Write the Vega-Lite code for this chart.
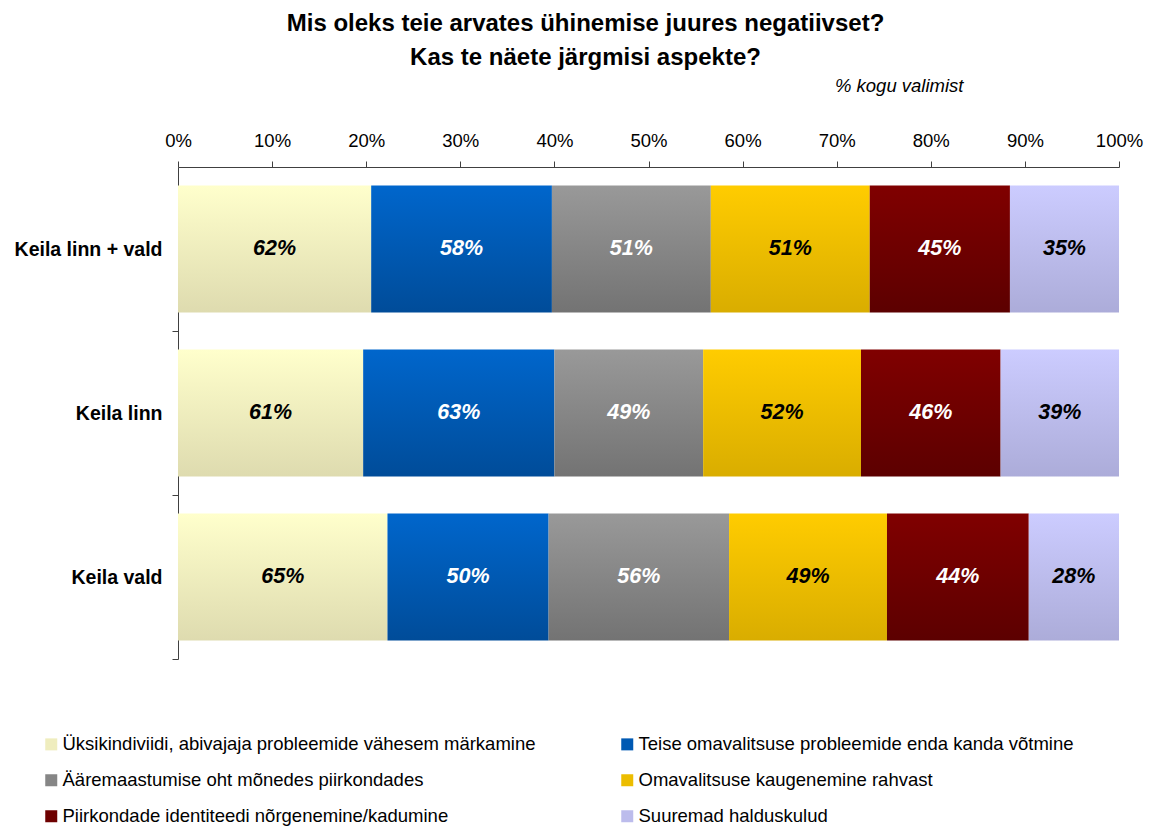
{
  "$schema": "https://vega.github.io/schema/vega-lite/v6.json",
  "width": 941,
  "height": 492,
  "autosize": "none",
  "padding": {"left": 178, "top": 167, "right": 31, "bottom": 167},
  "background": "white",
  "config": {"font": "Liberation Sans", "view": {"stroke": null}},
  "title": {
    "text": ["Mis oleks teie arvates ühinemise juures negatiivset?", "Kas te näete järgmisi aspekte?"],
    "anchor": "middle",
    "dx": -63,
    "fontSize": 24,
    "fontWeight": "bold",
    "color": "black",
    "lineHeight": 34,
    "offset": 6
  },
  "data": {
    "values": [
      {"group": "Keila linn + vald", "cat": "Üksikindiviidi, abivajaja probleemide vähesem märkamine", "k": 1, "v": 0.62},
      {"group": "Keila linn + vald", "cat": "Teise omavalitsuse probleemide enda kanda võtmine", "k": 2, "v": 0.58},
      {"group": "Keila linn + vald", "cat": "Ääremaastumise oht mõnedes piirkondades", "k": 3, "v": 0.51},
      {"group": "Keila linn + vald", "cat": "Omavalitsuse kaugenemine rahvast", "k": 4, "v": 0.51},
      {"group": "Keila linn + vald", "cat": "Piirkondade identiteedi nõrgenemine/kadumine", "k": 5, "v": 0.45},
      {"group": "Keila linn + vald", "cat": "Suuremad halduskulud", "k": 6, "v": 0.35},
      {"group": "Keila linn", "cat": "Üksikindiviidi, abivajaja probleemide vähesem märkamine", "k": 1, "v": 0.61},
      {"group": "Keila linn", "cat": "Teise omavalitsuse probleemide enda kanda võtmine", "k": 2, "v": 0.63},
      {"group": "Keila linn", "cat": "Ääremaastumise oht mõnedes piirkondades", "k": 3, "v": 0.49},
      {"group": "Keila linn", "cat": "Omavalitsuse kaugenemine rahvast", "k": 4, "v": 0.52},
      {"group": "Keila linn", "cat": "Piirkondade identiteedi nõrgenemine/kadumine", "k": 5, "v": 0.46},
      {"group": "Keila linn", "cat": "Suuremad halduskulud", "k": 6, "v": 0.39},
      {"group": "Keila vald", "cat": "Üksikindiviidi, abivajaja probleemide vähesem märkamine", "k": 1, "v": 0.65},
      {"group": "Keila vald", "cat": "Teise omavalitsuse probleemide enda kanda võtmine", "k": 2, "v": 0.50},
      {"group": "Keila vald", "cat": "Ääremaastumise oht mõnedes piirkondades", "k": 3, "v": 0.56},
      {"group": "Keila vald", "cat": "Omavalitsuse kaugenemine rahvast", "k": 4, "v": 0.49},
      {"group": "Keila vald", "cat": "Piirkondade identiteedi nõrgenemine/kadumine", "k": 5, "v": 0.44},
      {"group": "Keila vald", "cat": "Suuremad halduskulud", "k": 6, "v": 0.28}
    ]
  },
  "encoding": {
    "y": {
      "field": "group",
      "type": "nominal",
      "sort": ["Keila linn + vald", "Keila linn", "Keila vald"],
      "scale": {"paddingInner": 0.2256, "paddingOuter": 0.1128},
      "axis": {
        "title": null,
        "labelFontSize": 19.5,
        "labelFontWeight": "bold",
        "labelColor": "black",
        "labelPadding": 10,
        "labelOffset": -18.5,
        "tickSize": 6,
        "bandPosition": 1,
        "tickOffset": 18.5,
        "domainColor": "#404040",
        "tickColor": "#404040"
      }
    }
  },
  "layer": [
    {
      "mark": {"type": "bar", "strokeWidth": 0},
      "encoding": {
        "x": {
          "field": "v",
          "type": "quantitative",
          "stack": "normalize",
          "scale": {"domain": [0, 1], "nice": false},
          "axis": {
            "orient": "top",
            "format": ".0%",
            "values": [0, 0.1, 0.2, 0.3, 0.4, 0.5, 0.6, 0.7, 0.8, 0.9, 1],
            "grid": false,
            "labelFontSize": 18.5,
            "labelColor": "black",
            "labelPadding": 11,
            "tickSize": 6,
            "domainColor": "#404040",
            "tickColor": "#404040",
            "labelFlush": false,
            "title": "% kogu valimist",
            "titleFontStyle": "italic",
            "titleFontWeight": "normal",
            "titleFontSize": 18.5,
            "titleColor": "black",
            "titleAnchor": null,
            "titleAlign": "right",
            "titleBaseline": "alphabetic",
            "titleX": 785,
            "titleY": -76
          }
        },
        "color": {
          "field": "cat",
          "type": "nominal",
          "sort": [
            "Üksikindiviidi, abivajaja probleemide vähesem märkamine",
            "Teise omavalitsuse probleemide enda kanda võtmine",
            "Ääremaastumise oht mõnedes piirkondades",
            "Omavalitsuse kaugenemine rahvast",
            "Piirkondade identiteedi nõrgenemine/kadumine",
            "Suuremad halduskulud"
          ],
          "scale": {"range": ["#EFEDBE", "#0059B3", "#868686", "#ECBD00", "#6E0000", "#BCBCEC"]},
          "condition": [
            {"test": "datum.k == 1", "value": {"gradient": "linear", "x1": 0, "y1": 0, "x2": 0, "y2": 1, "stops": [{"offset": 0, "color": "#FFFFCC"}, {"offset": 1, "color": "#DEDBAF"}]}},
            {"test": "datum.k == 2", "value": {"gradient": "linear", "x1": 0, "y1": 0, "x2": 0, "y2": 1, "stops": [{"offset": 0, "color": "#0066CC"}, {"offset": 1, "color": "#004C99"}]}},
            {"test": "datum.k == 3", "value": {"gradient": "linear", "x1": 0, "y1": 0, "x2": 0, "y2": 1, "stops": [{"offset": 0, "color": "#999999"}, {"offset": 1, "color": "#737373"}]}},
            {"test": "datum.k == 4", "value": {"gradient": "linear", "x1": 0, "y1": 0, "x2": 0, "y2": 1, "stops": [{"offset": 0, "color": "#FFCC00"}, {"offset": 1, "color": "#D9AD00"}]}},
            {"test": "datum.k == 5", "value": {"gradient": "linear", "x1": 0, "y1": 0, "x2": 0, "y2": 1, "stops": [{"offset": 0, "color": "#800000"}, {"offset": 1, "color": "#5C0000"}]}},
            {"test": "datum.k == 6", "value": {"gradient": "linear", "x1": 0, "y1": 0, "x2": 0, "y2": 1, "stops": [{"offset": 0, "color": "#CCCCFF"}, {"offset": 1, "color": "#ACACD9"}]}}
          ],
          "legend": {
            "title": null,
            "orient": "none",
            "legendX": -136,
            "legendY": 568,
            "direction": "horizontal",
            "columns": 2,
            "columnPadding": 82,
            "rowPadding": 17,
            "symbolType": "square",
            "symbolSize": 144,
            "symbolStrokeWidth": 0,
            "symbolOpacity": 1,
            "labelFontSize": 18.5,
            "labelColor": "black",
            "labelLimit": 0,
            "labelOffset": 2
          }
        },
        "order": {"field": "k", "type": "quantitative"}
      }
    },
    {
      "mark": {"type": "text", "fontSize": 21.5, "fontStyle": "italic", "fontWeight": "bold"},
      "encoding": {
        "x": {"field": "v", "type": "quantitative", "stack": "normalize", "bandPosition": 0.5},
        "detail": {"field": "cat"},
        "order": {"field": "k", "type": "quantitative"},
        "text": {"field": "v", "type": "quantitative", "format": ".0%"},
        "color": {
          "condition": {"test": "datum.k == 2 || datum.k == 3 || datum.k == 5", "value": "white"},
          "value": "black"
        }
      }
    }
  ]
}
